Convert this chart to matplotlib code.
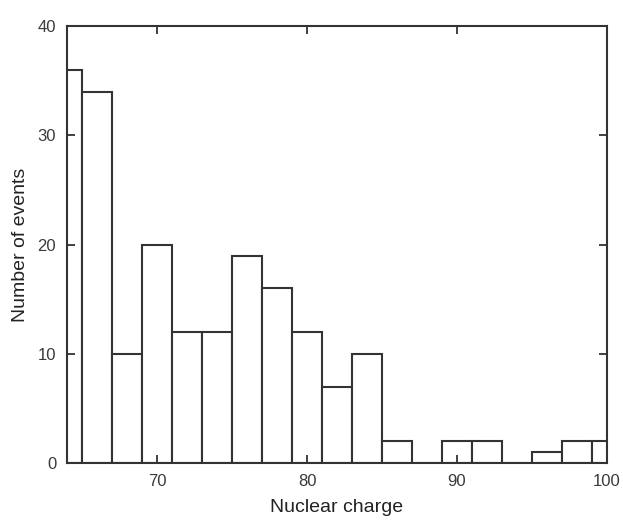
import matplotlib
matplotlib.use("Agg")
import matplotlib.pyplot as plt

plt.rcParams["font.family"] = ["Liberation Sans", "DejaVu Sans"]

# bin centres (width 2), first and last bins clipped by the axis limits
charge = [64, 66, 68, 70, 72, 74, 76, 78, 80, 82, 84, 86, 88, 90, 92, 94, 96, 98, 100]
events = [36, 34, 10, 20, 12, 12, 19, 16, 12, 7, 10, 2, 0, 2, 2, 0, 1, 2, 2]

col = "#333333"
fig = plt.figure(figsize=(6.23, 5.25), dpi=100)
ax = fig.add_axes([0.108, 0.118, 0.866, 0.832])

ax.bar(charge, events, width=2, align="center", facecolor="white",
       edgecolor=col, linewidth=1.5)

ax.set_xlim(64, 100)
ax.set_ylim(0, 40)
ax.set_xticks([70, 80, 90, 100])
ax.set_yticks([0, 10, 20, 30, 40])
ax.tick_params(direction="in", top=True, right=True, length=6, width=1.3,
               color=col, labelcolor="#3a3a3a", labelsize=12, pad=8)
for s in ax.spines.values():
    s.set_color(col)
    s.set_linewidth(1.5)

ax.set_xlabel("Nuclear charge", fontsize=14, color="#222222", labelpad=7)
ax.set_ylabel("Number of events", fontsize=14, color="#222222", labelpad=6)

fig.savefig("out.png", dpi=100)
